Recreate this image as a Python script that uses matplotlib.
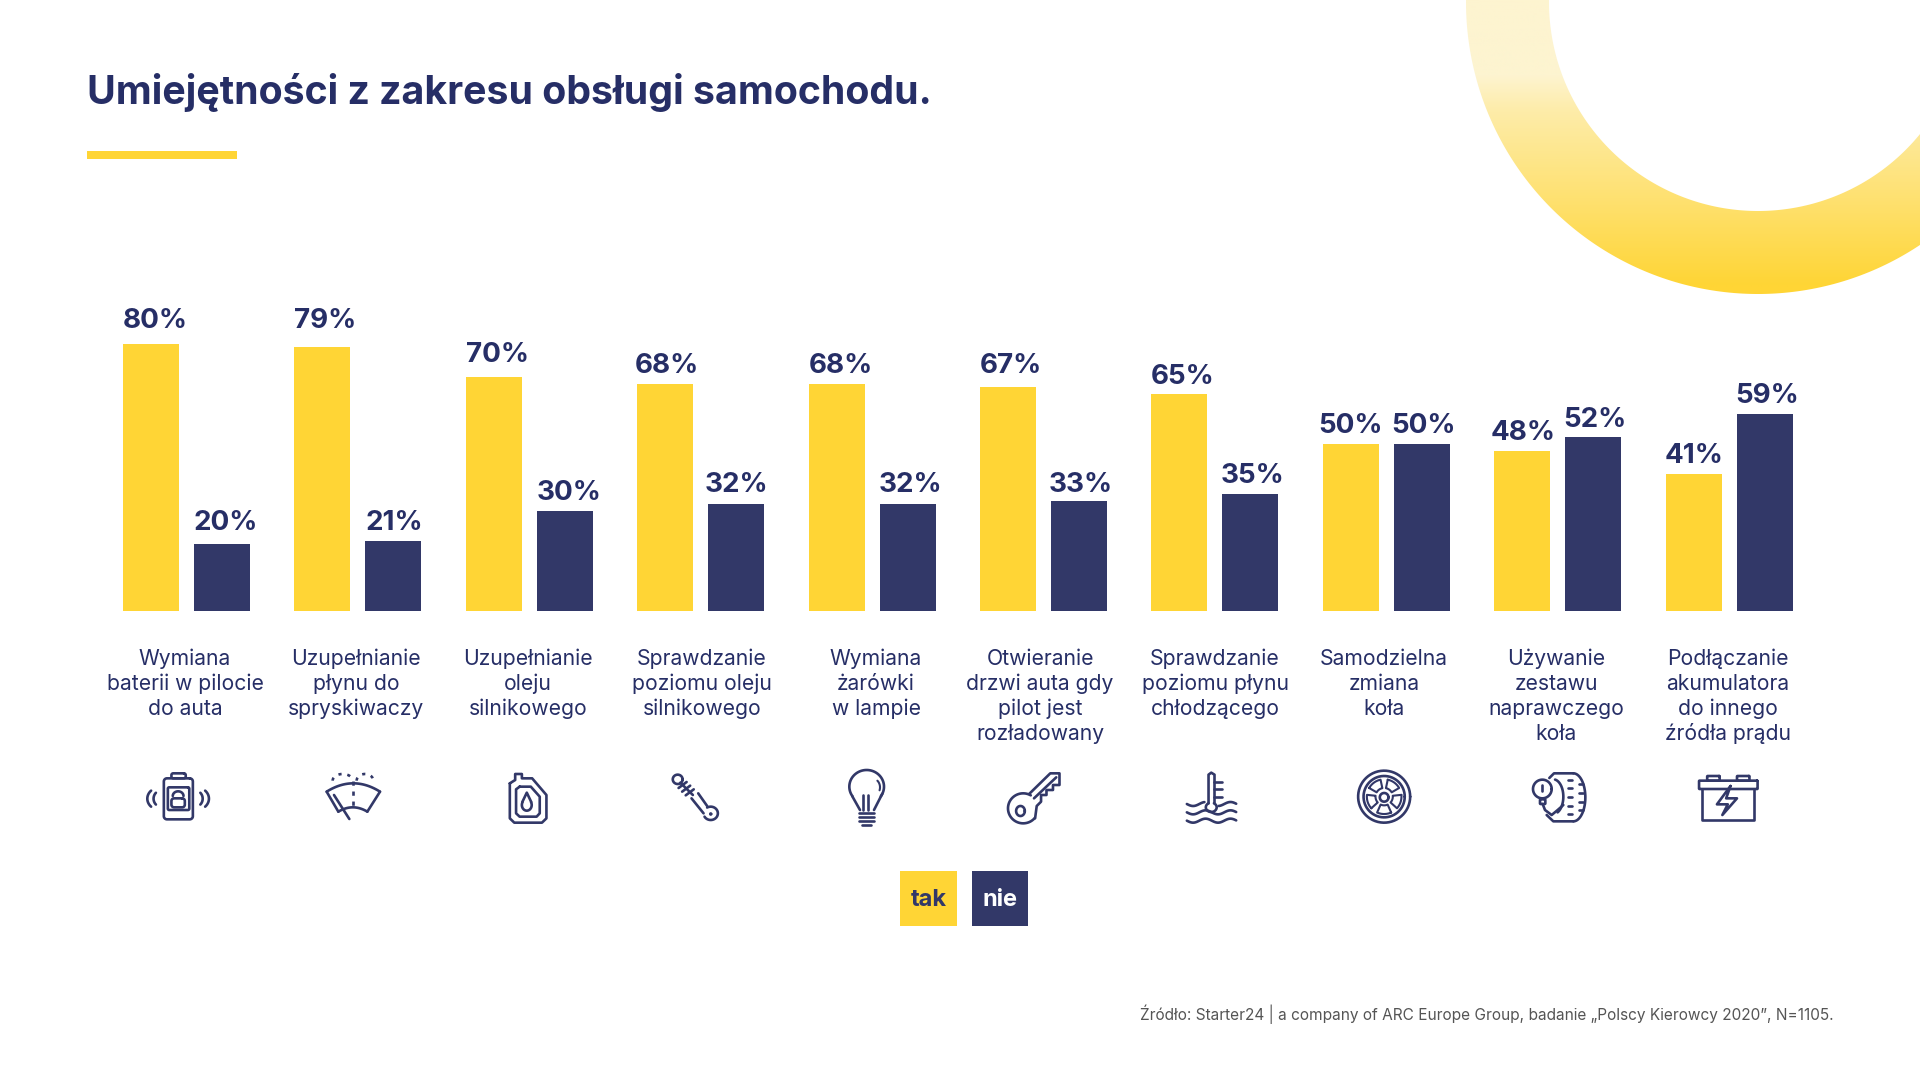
import numpy as np
import matplotlib
matplotlib.use("Agg")
import matplotlib.pyplot as plt
from matplotlib.path import Path
from matplotlib.patches import PathPatch, Rectangle

plt.rcParams['font.family'] = ['Inter', 'DejaVu Sans']

title = 'Umiejętności z zakresu obsługi samochodu.'
source = 'Źródło: Starter24 | a company of ARC Europe Group, badanie „Polscy Kierowcy 2020”, N=1105.'
categories = ['Wymiana\nbaterii w pilocie\ndo auta',
              'Uzupełnianie\npłynu do\nspryskiwaczy',
              'Uzupełnianie\noleju\nsilnikowego',
              'Sprawdzanie\npoziomu oleju\nsilnikowego',
              'Wymiana\nżarówki\nw lampie',
              'Otwieranie\ndrzwi auta gdy\npilot jest\nrozładowany',
              'Sprawdzanie\npoziomu płynu\nchłodzącego',
              'Samodzielna\nzmiana\nkoła',
              'Używanie\nzestawu\nnaprawczego\nkoła',
              'Podłączanie\nakumulatora\ndo innego\nźródła prądu']
tak = [80, 79, 70, 68, 68, 67, 65, 50, 48, 41]
nie = [20, 21, 30, 32, 32, 33, 35, 50, 52, 59]

YELLOW = '#FFD535'
NAVY = '#323868'
TEXT = '#262E66'
W, H = 1920, 1081

fig = plt.figure(figsize=(W / 100, H / 100), dpi=100, facecolor='white')

# pixel overlay for everything around the bars
ov = fig.add_axes([0, 0, 1, 1])
ov.set_xlim(0, W)
ov.set_ylim(H, 0)
ov.axis('off')

# ring top right
grad = np.interp(np.linspace(0, 300, 301), [0, 75, 110, 200, 285, 300], [0, 0, 0.25, 0.62, 1, 1])
light = np.array(matplotlib.colors.to_rgb('#FDF4D0'))
dark = np.array(matplotlib.colors.to_rgb(YELLOW))
img = light + (dark - light) * grad[:, None, None]
im = ov.imshow(np.tile(img, (1, 2, 1)), extent=(1440, W, 300, 0), aspect='auto', zorder=1)
ov.set_xlim(0, W)
ov.set_ylim(H, 0)
t = np.linspace(0, 2 * np.pi, 400)
outer = np.c_[1758 + 292 * np.cos(t), 2 + 292 * np.sin(t)]
inner = np.c_[1758 + 209 * np.cos(t[::-1]), 2 + 209 * np.sin(t[::-1])]
verts = np.r_[outer, inner]
codes = [Path.MOVETO] + [Path.LINETO] * 399 + [Path.MOVETO] + [Path.LINETO] * 399
im.set_clip_path(PathPatch(Path(verts, codes), transform=ov.transData))

ov.text(87, 104, title, fontsize=28.3, fontweight='bold', color=TEXT, va='baseline')
ov.add_patch(Rectangle((87, 151), 150, 8, color=YELLOW, lw=0))

label_x = [185, 356, 528, 702, 876, 1040, 1215, 1384, 1556, 1728]
for x, lab in zip(label_x, categories):
    for i, line_txt in enumerate(lab.split('\n')):
        ov.text(x, 659 + 25 * i, line_txt, fontsize=15.2, color=TEXT, ha='center', va='center')

# legend squares
ov.add_patch(Rectangle((900, 871), 57, 55, color=YELLOW, lw=0))
ov.add_patch(Rectangle((972, 871), 56, 55, color=NAVY, lw=0))
ov.text(928.5, 900, 'tak', fontsize=17, fontweight='bold', color=NAVY, ha='center', va='center')
ov.text(1000, 900, 'nie', fontsize=17, fontweight='bold', color='white', ha='center', va='center')

ov.text(1834, 1014, source, fontsize=11.1, color='#555555', ha='right', va='center')


def line(z, pts, **kw):
    pts = np.array(pts, float)
    kw.setdefault('lw', 1.9)
    ov.plot(z[0] + pts[:, 0] / z[1], z[2] + pts[:, 1] / 3, color=NAVY,
            solid_capstyle='round', solid_joinstyle='round', zorder=3, **kw)


def ell(z, cx, cy, rx, ry, a0=0, a1=360, **kw):
    a = np.radians(np.linspace(a0, a1, 60))
    line(z, np.c_[cx + rx * np.cos(a), cy + ry * np.sin(a)], **kw)


def rrect(z, x0, y0, x1, y1, r=8, **kw):
    rx = r
    ry = r * 3 / z[1]
    pts = []
    for cx, cy, a in [(x1 - rx, y0 + ry, -90), (x1 - rx, y1 - ry, 0), (x0 + rx, y1 - ry, 90), (x0 + rx, y0 + ry, 180)]:
        aa = np.radians(np.linspace(a, a + 90, 8))
        pts += list(zip(cx + rx * np.cos(aa), cy + ry * np.sin(aa)))
    pts.append(pts[0])
    line(z, pts, **kw)


def bow(z, x0, x1, y_mid, y_end, **kw):
    xs = np.linspace(x0, x1, 40)
    u = (xs - (x0 + x1) / 2) / ((x1 - x0) / 2)
    line(z, np.c_[xs, y_mid + (y_end - y_mid) * u ** 2], **kw)


z1 = (100, 2.24, 750)
z2 = (950, 1.845, 750)
z_bulb = (830, 3, 760)
z_tyre = (1510, 3, 760)
z_wiper = (320, 3, 760)

# battery remote
rrect(z1, 143, 85, 208, 208, 7)
rrect(z1, 160, 70, 192, 85, 4)
rrect(z1, 152, 112, 200, 180, 3)
rrect(z1, 160, 145, 190, 172, 6)
ell(z1, 175, 138, 12, 14, 180, 360)
ell(z1, 135, 146, 29, 34, 135, 225)
ell(z1, 138, 146, 18, 25, 135, 225)
ell(z1, 215, 146, 29, 34, -45, 45)
ell(z1, 212, 146, 18, 25, -45, 45)

# windscreen
bow(z_wiper, 20, 180, 70, 95)
bow(z_wiper, 55, 142, 142, 155)
line(z_wiper, [(20, 95), (55, 155)])
line(z_wiper, [(180, 95), (142, 155)])
line(z_wiper, [(42, 105), (88, 177)])
line(z_wiper, [(98, 62), (98, 140)], ls=(0, (1.6, 2.2)))
ell(z_wiper, 68, 62, 30, 20, 180, 360, ls=(0, (1.2, 2.2)))
ell(z_wiper, 135, 62, 25, 20, 180, 360, ls=(0, (1.2, 2.2)))

# oil can
line(z1, [(918, 100), (930, 90), (930, 72), (945, 72), (945, 85), (968, 85), (1000, 135), (1000, 205),
          (990, 218), (928, 218), (918, 205), (918, 100)])
line(z1, [(940, 110), (965, 110), (985, 140), (985, 190), (978, 200), (940, 200), (932, 190), (932, 118), (940, 110)])
ell(z1, 956, 165, 11, 17, -30, 210)
line(z1, [(946, 156), (956, 128), (966, 156)])

# dipstick
ell(z1, 1294, 88, 11, 14)
for x, y in [(1305, 105), (1313, 116), (1321, 127)]:
    line(z1, [(x - 9, y + 9), (x + 9, y - 9)])
line(z1, [(1300, 98), (1328, 135)])
line(z1, [(1325, 145), (1352, 190)])
line(z1, [(1340, 130), (1360, 168)])
ell(z1, 1368, 190, 16, 20, -120, 150)
ell(z1, 1368, 192, 2, 3, lw=1.2)

# bulb
ell(z_bulb, 110, 80, 52, 50, 145, 395)
line(z_bulb, [(67, 109), (90, 150)])
line(z_bulb, [(157, 101), (132, 150)])
for y in (158, 170, 182):
    line(z_bulb, [(88, y), (132, y)])
line(z_bulb, [(97, 195), (123, 195)])
line(z_bulb, [(100, 105), (100, 150)])
line(z_bulb, [(114, 105), (114, 150)])
ell(z_bulb, 128, 82, 22, 26, -50, 20, lw=1.5)

# key
ell(z2, 135, 175, 28, 45, 40, 300)
ell(z2, 130, 183, 8, 15)
line(z2, [(146, 132), (185, 70), (202, 70), (202, 105), (190, 105), (190, 120), (178, 120), (178, 135),
          (168, 135), (168, 155), (160, 168), (157, 205)])
line(z2, [(155, 145), (196, 82)])

# coolant
line(z2, [(477, 160), (477, 74), (482, 68), (488, 74), (488, 160)])
ell(z2, 482, 172, 10, 14, -60, 240)
for y in (95, 118, 140):
    line(z2, [(488, y), (502, y)])
for y, gap in [(162, True), (187, False), (212, False)]:
    xs = np.linspace(437, 528, 60)
    ys = y + 6 * np.sin((xs - 437) / 46 * 2 * np.pi)
    if gap:
        line(z2, np.c_[xs[xs < 470], ys[xs < 470]])
        line(z2, np.c_[xs[xs > 495], ys[xs > 495]])
    else:
        line(z2, np.c_[xs, ys])

# wheel
ell(z2, 801, 140, 48, 78)
ell(z2, 801, 140, 38, 62)
ell(z2, 801, 142, 8, 13)
for a in np.arange(-90, 270, 72) + 36:
    aa = np.radians(np.r_[np.linspace(a - 24, a + 24, 10), np.linspace(a + 24, a - 24, 10), a - 24])
    r = np.r_[np.full(10, 0.84), np.full(10, 0.42), 0.84]
    line(z2, np.c_[801 + 38 * r * np.cos(aa), 140 + 62 * r * np.sin(aa)], lw=1.5)

# tyre gauge
ell(z_tyre, 190, 112, 36, 72, -90, 90)
line(z_tyre, [(190, 40), (132, 40), (118, 54)])
line(z_tyre, [(190, 184), (130, 184), (110, 165)])
ell(z_tyre, 130, 110, 30, 52, -80, 65)
for y in (60, 85, 112, 138, 163):
    line(z_tyre, [(173, y), (185, y)])
for y in (72, 98, 125, 150):
    line(z_tyre, [(208, y), (220, y)])
ell(z_tyre, 97, 87, 28, 28)
line(z_tyre, [(97, 75), (97, 92)])
rrect(z_tyre, 90, 118, 106, 132, 2)
line(z_tyre, [(98, 132), (105, 150), (125, 165), (143, 150), (160, 135)])

# car battery
line(z2, [(1388, 117), (1388, 210), (1484, 210), (1484, 117)])
rrect(z2, 1382, 92, 1490, 117, 1)
rrect(z2, 1397, 78, 1420, 92, 1)
rrect(z2, 1452, 78, 1475, 92, 1)
line(z2, [(1440, 108), (1415, 163), (1435, 163), (1425, 195), (1452, 145), (1432, 145), (1440, 108)])

# bars: one group every 171.4 px, first centre at 186.5 px, zero line at y=611
ax = fig.add_axes([0, (H - 611) / H, 1, 340 / H])
ax.patch.set_alpha(0)
ax.set_xlim(-186.5 / 171.4, (W - 186.5) / 171.4)
ax.set_ylim(0, 340 / 3.34)
ax.axis('off')
x = np.arange(len(tak))
b1 = ax.bar(x - 0.207, tak, 0.327, color=YELLOW)
b2 = ax.bar(x + 0.207, nie, 0.327, color=NAVY)

# hand nudges for the value labels (points)
tak_dx = [3, 2, 3, 1, 3, 2, 2, 0, 1, 0]
tak_dy = [5.2, 7.5, 5, 1.8, 1.8, 4, 0.8, 1.7, 1.8, 1.6]
nie_dx = [2.5, 1, 3, 0.5, 2, 1.5, 1.5, 1.5, 1, 1.5]
nie_dy = [4.3, 1.8, 1.8, 2.6, 2.6, 0.1, 1.7, 1.7, 1.5, 1.8]
for bars, vals, dxs, dys in ((b1, tak, tak_dx, tak_dy), (b2, nie, nie_dx, nie_dy)):
    for b, v, dx, dy in zip(bars, vals, dxs, dys):
        ax.annotate(f'{v}%', (b.get_x() + b.get_width() / 2, v), xytext=(dx, 1.8 + dy), textcoords='offset points',
                    ha='center', va='bottom', fontsize=20, fontweight='bold', color=TEXT)

fig.savefig('out.png', dpi=100)
